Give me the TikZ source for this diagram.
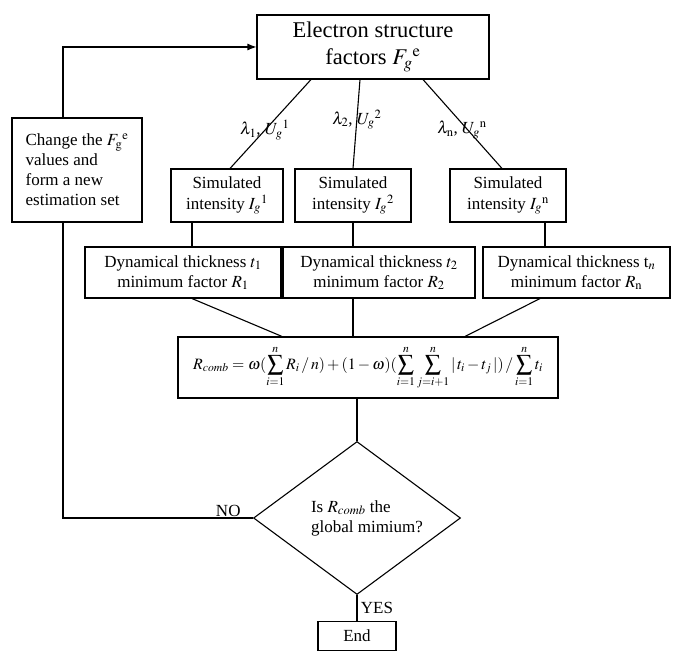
\documentclass[tikz,border=0pt]{standalone}
\usepackage{mathptmx}
\usepackage{fontspec}
\setmainfont{Liberation Serif}
\usetikzlibrary{positioning,shapes.geometric,arrows.meta}
\tikzset{proc box/.style={rectangle, draw, line width=1.1pt, inner sep=2pt, align=center},
  test node/.style={diamond, draw, line width=1.1pt, inner sep=0pt, aspect=1.35, minimum width=207pt, minimum height=153pt, align=left},
  flow/.style={line width=1.1pt},}

\begin{document}
\begin{tikzpicture}[x=1pt, y=-1pt, font=\fontsize{17}{20}\selectfont]
        \useasboundingbox (0,0) rectangle (676,650);
        % Nodes
        \node[proc box, minimum width=232pt, minimum height=64pt, font=\fontsize{22.5}{27}\selectfont] (esf) at (373,47) {Electron structure\\factors ${F_g}^{\mathrm{e}}$};
        \node[proc box, minimum width=130pt, minimum height=104pt, align=left] (chg) at (77,170) {Change the ${F_{\mathrm{g}}}^{\mathrm{e}}$\\values and\\form a new\\estimation set};
        \node[proc box, minimum width=112pt, minimum height=53pt, font=\fontsize{17}{21}\selectfont] (sim1) at (227,195.5) {Simulated\\intensity ${I_g}^1$};
        \node[proc box, minimum width=116pt, minimum height=53pt, font=\fontsize{17}{21}\selectfont] (sim2) at (353,195.5) {Simulated\\intensity ${I_g}^2$};
        \node[proc box, minimum width=116pt, minimum height=53pt, font=\fontsize{17}{21}\selectfont] (simn) at (508,195.5) {Simulated\\intensity ${I_g}^{\mathrm{n}}$};
        \node[proc box, minimum width=196pt, minimum height=51pt] (dyn1) at (183,272.5) {Dynamical thickness $t_1$\\minimum factor $R_1$};
        \node[proc box, minimum width=192pt, minimum height=51pt] (dyn2) at (379,272.5) {Dynamical thickness $t_2$\\minimum factor $R_2$};
        \node[proc box, minimum width=187pt, minimum height=51pt] (dynn) at (576.5,272.5) {Dynamical thickness t$_n$\\minimum factor $R_{\mathrm{n}}$};
        \node[proc box, minimum width=380pt, minimum height=61pt, font=\fontsize{15.8}{18}\selectfont] (comb) at (368,367.5) {$\displaystyle R_{comb}=\omega(\sum_{i=1}^{n}R_i\,/\,n)+(1-\omega)(\sum_{i=1}^{n}\sum_{j=i+1}^{n}|\,t_i-t_j\,|)\,/\sum_{i=1}^{n}t_i$};
        \node[test node] (glob) at (357,518) {\hspace*{20pt}Is $R_{comb}$ the\\\hspace*{20pt}global mimium?};
        \node[proc box, minimum width=78pt, minimum height=29pt] [below=26pt of glob] (fin) {End};
        \coordinate (lt) at ([xshift=-14pt]chg.north);
        \coordinate (lb) at ([xshift=-14pt]chg.south);
        % Paths
        \path[draw,flow]
        ([xshift=-62pt]esf.south) edge node[pos=.57] {$\lambda_1$, ${U_g}^1$} ([xshift=3pt]sim1.north)
        ([xshift=-13pt]esf.south) edge node[pos=.45] {$\lambda_2$, ${U_g}^2$} (sim2.north)
        ([xshift=50pt]esf.south) edge node[pos=.57, xshift=-6pt] {$\lambda_{\mathrm{n}}$, ${U_g}^{\mathrm{n}}$} ([xshift=-6pt]simn.north)
        ([xshift=-35pt]sim1.south) edge ([xshift=9pt]dyn1.north)
        (sim2.south) edge ([xshift=-26pt]dyn2.north)
        ([xshift=37pt]simn.south) edge ([xshift=-31.5pt]dynn.north)
        ([xshift=9pt]dyn1.south) edge ([xshift=-86pt]comb.north)
        ([xshift=-26pt]dyn2.south) edge ([xshift=-15pt]comb.north)
        ([xshift=-36.5pt]dynn.south) edge ([xshift=97pt]comb.north)
        (glob.north |- comb.south) edge (glob.north)
        (glob.south) edge node[right] {YES} (fin.north);
        % Loop back
        \draw[flow] (glob.west) -- node[pos=.13, above, inner sep=1pt] {NO} (glob.west -| lb) -- (lb);
        \draw[flow, -{Latex[length=9pt,width=7pt]}] (lt) |- (esf.west);
    \end{tikzpicture}
\end{document}
